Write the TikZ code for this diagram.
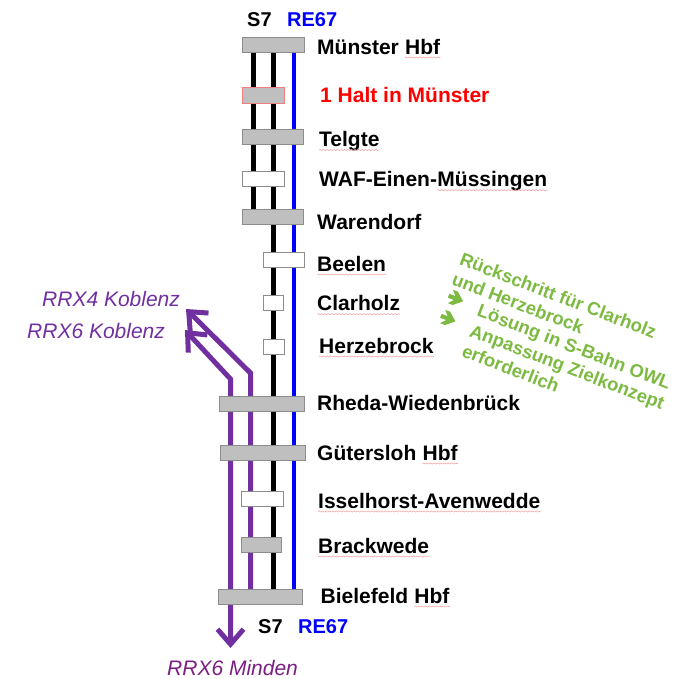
\documentclass[tikz,border=0pt]{standalone}
\usepackage{fontspec}
\setmainfont{Liberation Sans}
\usetikzlibrary{arrows.meta,decorations.pathmorphing}

\definecolor{boxgray}{HTML}{BFBFBF}
\definecolor{boxline}{HTML}{8C8C8C}
\definecolor{haltred}{HTML}{F08080}
\definecolor{rrx}{HTML}{7030A0}
\definecolor{rrxdark}{HTML}{7A1E82}
\definecolor{notegreen}{HTML}{7DBA42}
\definecolor{squig}{HTML}{F2A8A8}

\begin{document}
\begin{tikzpicture}[x=1pt,y=-1pt,
  stop/.style={draw=boxline, line width=1pt, fill=boxgray, inner sep=0pt, outer sep=0pt, minimum height=15pt},
  hollow/.style={stop, fill=white},
  stn/.style={anchor=base west, inner sep=0pt, font=\bfseries\fontsize{21}{25}\selectfont},
  lbl/.style={anchor=base west, inner sep=0pt, font=\bfseries\fontsize{20}{24}\selectfont},
  rrxlbl/.style={anchor=base west, inner sep=0pt, text=rrx, font=\itshape\fontsize{21}{25}\selectfont},
  notetext/.style={anchor=base west, inner sep=0pt, text=notegreen, font=\bfseries\fontsize{18.4}{22}\selectfont},
  s7line/.style={line width=5pt, black},
  reline/.style={line width=4.5pt, blue},
  barb/.tip={Straight Barb[length=15pt, width=26pt]},
  rrxline/.style={line width=5pt, rrx, line join=miter},
  wavy/.style={draw=squig, line width=0.6pt, decorate,
    decoration={snake, segment length=3.5pt, amplitude=0.6pt}},
]
\useasboundingbox (0,0) rectangle (684,678);

% track end points
\coordinate (s7aT) at (253,45);
\coordinate (s7aB) at (253,217);
\coordinate (s7bT) at (273,45);
\coordinate (s7bB) at (273,596);
\coordinate (reT)  at (294,45);
\coordinate (reB)  at (294,596);
\coordinate (r4tip)  at (186,309);
\coordinate (r4bend) at (250.5,373);
\coordinate (r4end)  at (250.5,596);
\coordinate (r6tip)  at (185,330);
\coordinate (r6bend) at (230.5,379);
\coordinate (r6end)  at (230.5,648);

% tracks
\draw[s7line] (s7aT) -- (s7aB);
\draw[s7line] (s7bT) -- (s7bB);
\draw[reline] (reT) -- (reB);
\draw[rrxline, barb-] (r4tip) -- (r4bend) -- (r4end);
\draw[rrxline, barb-barb] (r6tip) -- (r6bend) -- (r6end);

% stops
\node[stop,   minimum width=62pt] (bMS)  at (273,45)    {};
\node[stop,   minimum width=42pt, draw=haltred, minimum height=16pt] (bHalt) at (263,95) {};
\node[stop,   minimum width=61pt] (bTel) at (272.5,137) {};
\node[hollow, minimum width=42pt] (bWAF) at (263,179)   {};
\node[stop,   minimum width=61pt] (bWar) at (272.5,217) {};
\node[hollow, minimum width=41pt] (bBee) at (283.5,260) {};
\node[hollow, minimum width=20pt] (bCla) at (273,302.5) {};
\node[hollow, minimum width=21pt] (bHer) at (273.5,346.5) {};
\node[stop,   minimum width=85pt] (bRhe) at (261.5,403.5) {};
\node[stop,   minimum width=85pt] (bGue) at (262.5,453) {};
\node[hollow, minimum width=42pt] (bIss) at (262,499)   {};
\node[stop,   minimum width=40pt] (bBra) at (261,545)   {};
\node[stop,   minimum width=84pt] (bBie) at (260,596.5) {};

% line names
\node[lbl] (s7top) at (247,26.7) {S7};
\node[lbl, text=blue] (retop) at (287,26.7) {RE67};
\node[lbl] (s7bot) at (258,633) {S7};
\node[lbl, text=blue] (rebot) at (298,633) {RE67};

% station names (words flagged by the spell checker get their own node)
\node[stn] (tMS)  at (317,54)    {Münster\ \mbox{}};
\node[stn] (wMS)  at (tMS.base east) {Hbf};
\node[stn, text=red] (tHalt) at (320,102) {1 Halt in Münster};
\node[stn] (wTel) at (319,146.5) {Telgte};
\node[stn] (tWAF) at (319,186.7) {WAF-Einen-};
\node[stn] (wWAF) at (tWAF.base east) {Müssingen};
\node[stn] (tWar) at (317,229)   {Warendorf};
\node[stn] (wBee) at (317,271)   {Beelen};
\node[stn] (wCla) at (317,310.7) {Clarholz};
\node[stn] (wHer) at (319,353)   {Herzebrock};
\node[stn] (tRhe) at (317,410)   {Rheda-Wiedenbrück};
\node[stn] (tGue) at (317,460)   {Gütersloh\ \mbox{}};
\node[stn] (wGue) at (tGue.base east) {Hbf};
\node[stn] (wIss) at (318,508)   {Isselhorst-Avenwedde};
\node[stn] (wBra) at (318,553)   {Brackwede};
\node[stn] (tBie) at (320.5,603) {Bielefeld\ \mbox{}};
\node[stn] (wBie) at (tBie.base east) {Hbf};

\foreach \w in {wMS,wTel,wWAF,wBee,wCla,wHer,wGue,wIss,wBra,wBie}
  \draw[wavy] ([yshift=-3.5pt]\w.base west) -- ([yshift=-3.5pt]\w.base east);

% RRX destinations
\node[rrxlbl] (k4) at (42,306)  {RRX4 Koblenz};
\node[rrxlbl] (k6) at (27,338)  {RRX6 Koblenz};
\node[rrxlbl, text=rrxdark] (m6) at (167,675) {RRX6 Minden};

% rotated remark
\begin{scope}[shift={(463,252)}, rotate=-21, every node/.append style={transform shape}]
  \node[notetext] (n1) at (0,13)   {Rückschritt für Clarholz};
  \node[notetext] (n2) at (0,34.5) {und Herzebrock};
  \node[notetext] (n3) at (35,55)  {Lösung in S-Bahn OWL};
  \node[notetext] (n4) at (35,76.5) {Anpassung Zielkonzept};
  \node[notetext] (n5) at (35,98)  {erforderlich};
  \foreach \v in {46,67.5}{
    \fill[notegreen, shift={(10,\v)}, scale=1.3]
      (-6,-1.6) -- (-1,-1.6) -- (-4.5,-5.5) -- (-0.5,-5.5) -- (6,0) -- (-0.5,5.5)
      -- (-4.5,5.5) -- (-1,1.6) -- (-6,1.6) -- cycle;
  }
\end{scope}
\end{tikzpicture}
\end{document}
